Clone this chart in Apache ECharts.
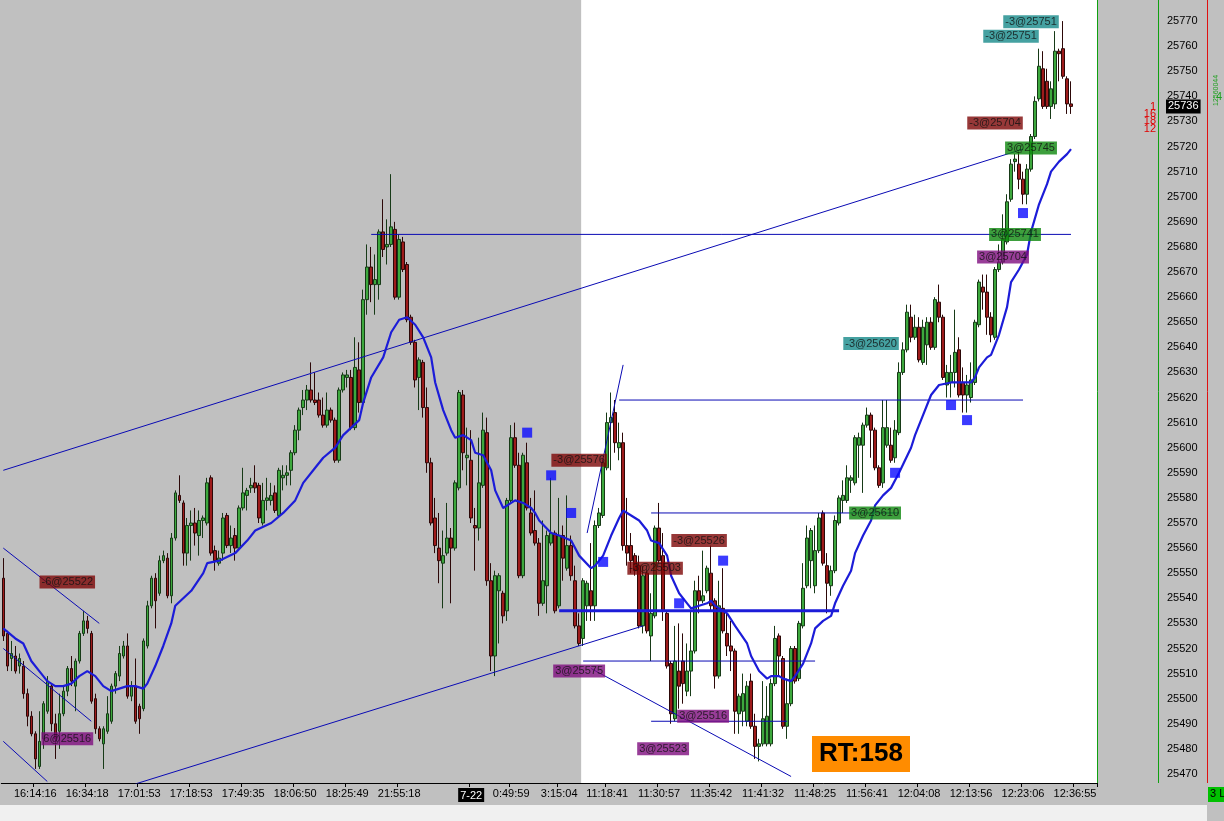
<!DOCTYPE html>
<html><head><meta charset="utf-8">
<script src="https://cdn.jsdelivr.net/npm/echarts@6/dist/echarts.min.js"></script>
<style>html,body{margin:0;padding:0;background:#c0c0c0;overflow:hidden}#c{width:1224px;height:821px}</style>
</head><body><div id="c"></div>
<script>
const openP = [
25548,25526,25516,25517,25513,25513,25502,25493,25486,25473,
25484,25495,25505,25490,25487,25494,25503,25512,25505,25515,
25526,25531,25526,25500,25488,25482,25487,25491,25505,25509,
25517,25521,25501,25505,25497,25496,25521,25537,25548,25542,
25555,25556,25541,25564,25581,25578,25558,25569,25570,25565,
25571,25570,25588,25559,25554,25558,25573,25561,25565,25560,
25576,25581,25584,25586,25585,25570,25579,25579,25582,25573,
25588,25589,25591,25598,25607,25616,25619,25623,25619,25619,
25613,25609,25615,25611,25595,25623,25628,25628,25608,25631,
25618,25659,25672,25665,25665,25686,25680,25681,25687,25660,
25682,25673,25652,25642,25628,25634,25616,25594,25572,25560,
25554,25558,25564,25560,25584,25621,25596,25595,25569,25568,
25585,25606,25547,25517,25543,25542,25535,25579,25604,25593,
25549,25594,25574,25567,25562,25538,25545,25562,25566,25537,
25565,25552,25561,25547,25529,25524,25537,25543,25537,25569,
25573,25592,25610,25614,25600,25602,25561,25561,25557,25553,
25529,25550,25525,25533,25568,25557,25534,25514,25492,25511,
25515,25503,25511,25519,25543,25539,25543,25550,25539,25509,
25536,25526,25521,25519,25494,25495,25491,25507,25489,25481,
25482,25482,25482,25506,25525,25516,25489,25498,25520,25508,
25529,25545,25555,25545,25559,25574,25553,25545,25551,25570,
25579,25579,25587,25586,25601,25601,25609,25613,25607,25592,
25586,25601,25601,25596,25606,25630,25639,25652,25644,25648,
25634,25641,25650,25640,25658,25652,25625,25626,25630,25639,
25626,25621,25620,25626,25649,25664,25662,25652,25644,25671,
25674,25682,25699,25714,25713,25707,25701,25711,25724,25739,
25751,25746,25736,25737,25758,25759,25747,25737];
const highP = [
25556,25527,25523,25521,25518,25515,25504,25495,25487,25495,
25499,25509,25506,25494,25502,25505,25513,25517,25516,25527,
25535,25533,25527,25502,25489,25489,25501,25506,25511,25521,
25523,25526,25507,25516,25498,25524,25539,25549,25550,25557,
25559,25558,25566,25583,25589,25579,25572,25575,25576,25575,
25573,25588,25589,25561,25559,25574,25574,25569,25568,25577,
25592,25584,25588,25593,25586,25586,25588,25586,25585,25592,
25593,25593,25599,25609,25616,25623,25625,25634,25630,25622,
25620,25622,25616,25612,25624,25630,25631,25631,25644,25642,
25663,25681,25680,25677,25687,25699,25691,25709,25690,25685,
25684,25674,25653,25643,25636,25635,25624,25596,25580,25574,
25567,25578,25568,25587,25623,25623,25608,25607,25576,25604,
25614,25612,25554,25551,25550,25543,25580,25609,25610,25598,
25598,25602,25580,25583,25564,25571,25567,25588,25567,25580,
25569,25581,25565,25553,25534,25548,25547,25562,25571,25576,
25595,25614,25622,25619,25610,25606,25580,25566,25558,25557,
25553,25551,25542,25569,25578,25566,25535,25515,25529,25530,
25526,25522,25535,25547,25549,25559,25553,25561,25540,25547,
25552,25534,25531,25520,25502,25510,25507,25510,25494,25484,
25507,25505,25508,25529,25526,25517,25508,25521,25521,25531,
25554,25569,25568,25569,25574,25575,25558,25553,25573,25581,
25587,25593,25589,25605,25606,25610,25616,25614,25608,25593,
25619,25619,25608,25611,25634,25642,25657,25657,25653,25652,
25651,25652,25652,25660,25665,25653,25633,25637,25655,25644,
25632,25629,25634,25651,25667,25669,25669,25654,25672,25681,
25693,25701,25715,25717,25718,25710,25713,25725,25740,25759,
25758,25751,25746,25766,25759,25770,25748,25746];
const lowP = [
25523,25511,25511,25510,25510,25500,25489,25485,25472,25472,
25480,25494,25487,25476,25480,25493,25501,25505,25495,25514,
25525,25526,25498,25486,25483,25472,25486,25490,25502,25507,
25516,25500,25499,25490,25486,25495,25520,25536,25528,25541,
25554,25540,25538,25563,25578,25553,25553,25555,25561,25557,
25564,25569,25557,25551,25553,25555,25560,25558,25555,25559,
25575,25575,25582,25582,25570,25569,25575,25577,25574,25572,
25583,25585,25585,25597,25603,25613,25615,25618,25617,25612,
25608,25608,25610,25594,25594,25622,25624,25607,25607,25614,
25617,25653,25658,25653,25659,25676,25673,25680,25659,25659,
25670,25650,25641,25624,25615,25612,25590,25569,25558,25546,
25536,25557,25538,25559,25583,25591,25585,25570,25551,25563,
25584,25545,25511,25509,25522,25530,25531,25578,25592,25548,
25548,25575,25565,25561,25533,25537,25534,25561,25534,25536,
25547,25551,25547,25528,25521,25521,25531,25531,25531,25568,
25572,25591,25591,25598,25595,25559,25553,25550,25549,25528,
25526,25526,25515,25532,25554,25531,25512,25490,25491,25496,
25498,25501,25501,25518,25534,25538,25542,25535,25504,25508,
25526,25517,25511,25486,25486,25489,25489,25488,25476,25475,
25481,25481,25481,25505,25509,25488,25484,25497,25506,25507,
25528,25544,25544,25542,25558,25553,25534,25541,25550,25569,
25574,25578,25582,25585,25588,25582,25608,25596,25591,25584,
25584,25600,25594,25594,25605,25629,25638,25642,25643,25634,
25633,25633,25639,25639,25650,25627,25620,25620,25624,25620,
25614,25614,25618,25625,25648,25655,25645,25642,25643,25670,
25673,25681,25698,25710,25703,25697,25697,25710,25723,25738,
25735,25735,25731,25735,25746,25747,25733,25733];
const closeP = [
25525,25513,25518,25511,25516,25502,25493,25486,25476,25483,
25498,25507,25490,25484,25494,25503,25512,25507,25515,25526,
25531,25528,25499,25488,25484,25488,25494,25505,25510,25518,
25521,25501,25505,25491,25492,25523,25537,25548,25539,25555,
25557,25541,25564,25582,25579,25558,25569,25570,25566,25571,
25572,25586,25558,25555,25556,25572,25561,25564,25560,25576,
25582,25583,25585,25584,25572,25579,25580,25581,25575,25591,
25589,25590,25598,25607,25615,25619,25623,25619,25618,25613,
25609,25615,25611,25595,25623,25629,25629,25608,25632,25618,
25659,25672,25665,25667,25686,25679,25681,25688,25660,25683,
25671,25651,25642,25627,25635,25616,25594,25570,25561,25555,
25557,25564,25560,25586,25622,25598,25597,25572,25568,25586,
25607,25547,25517,25549,25549,25533,25579,25604,25593,25549,
25597,25576,25566,25562,25538,25547,25565,25566,25535,25565,
25556,25561,25549,25529,25522,25547,25546,25537,25569,25574,
25594,25610,25612,25602,25602,25561,25558,25555,25551,25529,
25549,25527,25534,25568,25555,25535,25513,25494,25515,25505,
25506,25511,25519,25543,25539,25541,25552,25537,25509,25537,
25527,25521,25519,25495,25501,25502,25505,25489,25481,25482,
25492,25493,25506,25524,25517,25489,25498,25520,25507,25530,
25544,25564,25567,25559,25572,25554,25546,25551,25571,25580,
25581,25588,25588,25604,25604,25609,25613,25607,25592,25585,
25608,25608,25595,25607,25630,25639,25654,25644,25648,25635,
25648,25650,25640,25659,25652,25628,25630,25630,25638,25621,
25621,25625,25627,25650,25666,25662,25652,25645,25671,25674,
25683,25698,25713,25715,25707,25701,25711,25724,25738,25752,
25736,25736,25743,25758,25757,25748,25737,25736];

// moving-average line: [bar index, price]
const maPoints = [[0,25528],[3,25524],[5,25522],[7,25515],[9,25511],[11,25507],[13,25505],[15,25505],[17,25506],[19,25509],[21,25511],[23,25509],[25,25505],[27,25503],[29,25504],[31,25505],[33,25505],[35,25504],[36,25506],[38,25513],[40,25521],[42,25530],[43,25537],[47,25543],[50,25550],[51,25554],[54,25555],[58,25558],[61,25563],[63,25567],[67,25570],[70,25574],[73,25579],[75,25586],[78,25592],[80,25596],[83,25600],[85,25605],[87,25608],[89,25611],[90,25618],[92,25628],[95,25636],[97,25646],[99,25651],[101,25652],[103,25649],[105,25644],[107,25636],[108,25626],[110,25615],[112,25607],[113,25604],[115,25605],[117,25603],[118,25598],[120,25597],[122,25591],[123,25583],[125,25576],[127,25578],[128,25579],[130,25578],[132,25576],[133,25574],[134,25571],[137,25566],[139,25565],[142,25563],[144,25557],[147,25552],[148,25553],[150,25557],[152,25565],[154,25572],[155,25575],[157,25573],[159,25571],[161,25567],[162,25563],[164,25562],[166,25557],[167,25549],[169,25542],[171,25538],[172,25536],[174,25537],[176,25538],[177,25539],[178,25537],[181,25534],[183,25529],[186,25522],[187,25517],[189,25511],[191,25508],[192,25509],[194,25509],[195,25508],[197,25507],[198,25509],[200,25514],[202,25522],[203,25528],[205,25531],[207,25533],[208,25538],[210,25545],[212,25551],[213,25558],[215,25565],[217,25571],[218,25577],[220,25581],[222,25584],[224,25590],[227,25600],[228,25605],[230,25613],[232,25621],[234,25625],[237,25626],[239,25626],[242,25626],[243,25628],[244,25632],[246,25636],[247,25637],[249,25645],[251,25656],[252,25666],[254,25671],[256,25677],[257,25686],[259,25697],[261,25705],[262,25710],[264,25714],[266,25717],[267,25719]];

const tickIndex = [8,21,34,47,60,73,86,99,117,127,139,151,164,177,190,203,216,229,242,255,268];
const tickText = ['16:14:16','16:34:18','17:01:53','17:18:53','17:49:35','18:06:50','18:25:49','21:55:18','7-22','0:49:59','3:15:04','11:18:41','11:30:57','11:35:42','11:41:32','11:48:25','11:56:41','12:04:08','12:13:56','12:23:06','12:36:55'];

// drawn lines: [from bar, from price, to bar, to price]
const drawnLines = [[0,25591,255,25719],[33,25466,160,25529],[92,25685,267,25685],[154,25619,255,25619],[162,25574,224,25574],[139,25535,209,25535],[145,25515,203,25515],[162,25491,196,25491],[147,25512,197,25469],[146,25566,155,25633],[0,25560,24,25530],[0,25520,22,25491],[0,25483,11,25467]];
const thickLineIds = [5];

// trade labels: [text, bar, price, kind]
const tradeLabels = [['-6@25522',16,25546.5,'sell'],['6@25516',16,25484,'buy'],['-3@25576',144,25595,'sell'],['3@25575',144,25511,'buy'],['-3@25526',174,25563,'sell'],['-3@25503',163,25552,'sell'],['3@25516',175,25493,'buy'],['3@25523',165,25480,'buy'],['3@25610',218,25574,'long'],['-3@25620',217,25641.5,'short'],['3@25704',250,25676,'buy'],['3@25741',253,25685,'long'],['-3@25704',248,25729.4,'sell'],['3@25745',257,25719.4,'long'],['-3@25751',252,25764,'short'],['-3@25751',257,25769.7,'short']];
const signalSquares = [[131,25606],[137,25589],[142,25574],[150,25554.5],[169,25538],[180,25555],[223,25590],[237,25617],[241,25611],[255,25693.5]];

const slotCount = 274;
const sessionStart = 145;

const kindColor = {sell:'#7d0606', buy:'#7e0d7e', long:'#0d870d', short:'#178a8a'};
const FONT = 'Liberation Sans';
const cats = Array.from({length: slotCount}, (_, i) => String(i));
const candles = openP.map((o, i) => [o, closeP[i], lowP[i], highP[i]]);
const tickMap = {};
tickIndex.forEach((k, i) => { tickMap[k] = tickText[i]; });
const showTick = (i) => tickMap[i] !== undefined;

const lineSeries = drawnLines.map((l, i) => ({
  type: 'line', data: [[l[0], l[1]], [l[2], l[3]]], showSymbol: false, symbol: 'none', z: 4,
  silent: true, clip: true,
  lineStyle: thickLineIds.includes(i) ? {color: '#1c1cd8', width: 3} : {color: '#0a0ab4', width: 1},
  emphasis: {disabled: true}
}));

const chart = echarts.init(document.getElementById('c'), null, {renderer: 'canvas'});
const option = {
  animation: false,
  backgroundColor: '#c0c0c0',
  grid: {left: 1.3, right: 127, top: 0, bottom: 38, outerBoundsMode: 'none', containLabel: false},
  tooltip: {show: false},
  xAxis: {
    type: 'category', data: cats, boundaryGap: true,
    axisLine: {show: true, lineStyle: {color: '#000', width: 1}},
    axisTick: {show: true, interval: showTick, length: 4, lineStyle: {color: '#000'}},
    axisLabel: {
      interval: showTick, margin: 5, color: '#000', fontSize: 11, fontFamily: FONT,
      formatter: (v, i) => tickMap[i] === '7-22' ? '{d|7-22}' : (tickMap[i] || ''),
      rich: {d: {backgroundColor: '#000', color: '#fff', padding: [2, 2, 1, 2], fontSize: 11, fontFamily: FONT}}
    },
    splitLine: {show: false}
  },
  yAxis: {
    type: 'value', position: 'right', min: 25466.4, max: 25778.4, splitNumber: 31,
    axisLine: {show: false}, axisTick: {show: false}, splitLine: {show: false},
    axisLabel: {margin: 70, color: '#000', fontSize: 11, fontFamily: FONT, showMinLabel: false, showMaxLabel: false,
      formatter: (v) => String(Math.round(v))}
  },
  series: [
    {
      type: 'candlestick', data: candles, barWidth: 3, z: 3,
      itemStyle: {color: '#3da83d', color0: '#9e1b1b', borderColor: '#173a17', borderColor0: '#2c0808', borderWidth: 1}
    },
    {
      type: 'line', data: maPoints, showSymbol: false, symbol: 'none', z: 5, silent: true,
      lineStyle: {color: '#1c1cd8', width: 2.2}
    },
    ...lineSeries,
    {
      type: 'scatter', data: signalSquares, symbol: 'rect', symbolSize: 10, z: 6,
      itemStyle: {color: '#0a0aff'}
    },
    {
      type: 'scatter', z: 7, symbol: 'rect', symbolSize: 1,
      itemStyle: {color: 'rgba(0,0,0,0)'},
      data: tradeLabels.map(t => ({name: t[0], value: [t[1], t[2]],
        label: {backgroundColor: kindColor[t[3]]}})),
      label: {show: true, position: 'inside', formatter: '{b}', color: '#111', fontSize: 11, fontFamily: FONT,
        padding: [1, 2, 0, 2], lineHeight: 12}
    },
    {
      type: 'line', data: [], clip: false, z: 8,
      markLine: {
        silent: true, symbol: ['none', 'none'], animation: false,
        lineStyle: {color: 'rgba(0,0,0,0)', width: 0},
        label: {show: true, position: 'end', distance: 69, backgroundColor: '#000', color: '#fff',
          fontSize: 11, fontFamily: FONT, padding: [2, 2, 1, 2], formatter: (p) => String(p.value)},
        data: [{yAxis: closeP[closeP.length - 1]}]
      }
    }
  ],
  graphic: [
    {id: 'bottomBand', type: 'rect', shape: {x: 0, y: 805, width: 1207, height: 16}, style: {fill: '#f0f0f0'}, z: 1, silent: true},
    {id: 'gLine1', type: 'line', shape: {x1: 1097.5, y1: 0, x2: 1097.5, y2: 783}, style: {stroke: '#10a010', lineWidth: 1}, z: 10},
    {id: 'gLine2', type: 'line', shape: {x1: 1158.5, y1: 0, x2: 1158.5, y2: 783}, style: {stroke: '#10a010', lineWidth: 1}, z: 10},
    {id: 'rLine', type: 'line', shape: {x1: 1207.5, y1: 0, x2: 1207.5, y2: 783}, style: {stroke: '#e01010', lineWidth: 1}, z: 10},
    {id: 'rt1', type: 'text', x: 1156, y: 101, style: {text: '1', fill: '#e00000', font: '11px Liberation Sans', align: 'right'}, z: 10},
    {id: 'rt2', type: 'text', x: 1156, y: 108, style: {text: '16', fill: '#e00000', font: '11px Liberation Sans', align: 'right'}, z: 10},
    {id: 'rt3', type: 'text', x: 1156, y: 115, style: {text: '18', fill: '#e00000', font: '11px Liberation Sans', align: 'right'}, z: 10},
    {id: 'rt4', type: 'text', x: 1156, y: 123, style: {text: '12', fill: '#e00000', font: '11px Liberation Sans', align: 'right'}, z: 10},
    {id: 'gt1', type: 'text', x: 1213, y: 106, rotation: Math.PI / 2, style: {text: '12560044', fill: '#20a020', font: '7px Liberation Sans'}, z: 10},
    {id: 'gt2', type: 'text', x: 1216, y: 91, style: {text: '4', fill: '#20a020', font: '11px Liberation Sans'}, z: 10},
    {id: 'lBox', type: 'rect', shape: {x: 1208, y: 787, width: 16, height: 15}, style: {fill: '#00c000'}, z: 10},
    {id: 'lTxt', type: 'text', x: 1210, y: 788, style: {text: '3 L', fill: '#000', font: '11px Liberation Sans'}, z: 11},
    {id: 'rtBox', type: 'rect', shape: {x: 812, y: 736, width: 98, height: 36}, style: {fill: '#ff8c00'}, z: 10},
    {id: 'rtTxt', type: 'text', x: 861, y: 754, style: {text: 'RT:158', fill: '#000', font: 'bold 26px Liberation Sans', align: 'center', verticalAlign: 'middle'}, z: 11}
  ]
};
chart.setOption(option);

// white area for the current session, placed through the category axis
const xa = chart.convertToPixel({xAxisIndex: 0}, sessionStart);
const xb = chart.convertToPixel({xAxisIndex: 0}, sessionStart - 1);
const xStart = (xa + xb) / 2;
const yTop = chart.convertToPixel({yAxisIndex: 0}, 25778.4);
const yBot = chart.convertToPixel({yAxisIndex: 0}, 25466.4);
chart.setOption({graphic: [
  {id: 'session', type: 'rect', shape: {x: xStart, y: yTop, width: 1097 - xStart, height: yBot - yTop}, style: {fill: '#ffffff'}, z: 1, silent: true}
]});
</script>
</body></html>
